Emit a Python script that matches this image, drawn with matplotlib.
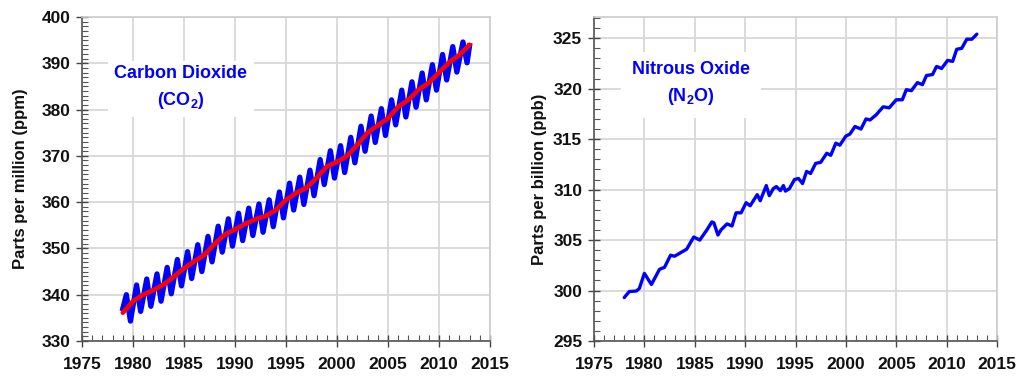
import matplotlib
matplotlib.use("Agg")
import matplotlib.pyplot as plt
from matplotlib.ticker import MultipleLocator

plt.rcParams['font.family'] = ['Liberation Sans', 'DejaVu Sans']
plt.rcParams['font.weight'] = 'bold'
plt.rcParams['mathtext.fontset'] = 'custom'
plt.rcParams['mathtext.rm'] = 'Liberation Sans:bold'
plt.rcParams['mathtext.bf'] = 'Liberation Sans:bold'
plt.rcParams['mathtext.default'] = 'rm'

# ---------------- CO2 data (ppm) ----------------
co2_trend_years = [1979, 1980, 1981, 1982, 1983, 1984, 1985, 1986, 1987, 1988,
                   1989, 1990, 1991, 1992, 1993, 1994, 1995, 1996, 1997, 1998,
                   1999, 2000, 2001, 2002, 2003, 2004, 2005, 2006, 2007, 2008,
                   2009, 2010, 2011, 2012, 2013]
co2_trend = [336.1, 338.6, 340.0, 341.0, 342.2, 343.9, 345.7, 347.2, 348.6, 351.0,
             353.0, 354.1, 355.3, 356.3, 357.0, 358.3, 360.5, 362.0, 363.1, 365.2,
             367.7, 368.7, 370.0, 372.4, 375.0, 376.6, 378.1, 380.6, 382.1, 384.3,
             385.8, 388.0, 390.2, 391.8, 394.0]

co2_peak_years = [1979.35, 1980.35, 1981.35, 1982.35, 1983.35, 1984.35, 1985.35,
                  1986.35, 1987.35, 1988.35, 1989.35, 1990.35, 1991.35, 1992.35,
                  1993.35, 1994.35, 1995.35, 1996.35, 1997.35, 1998.35, 1999.35,
                  2000.35, 2001.35, 2002.35, 2003.35, 2004.35, 2005.35, 2006.35,
                  2007.35, 2008.35, 2009.35, 2010.35, 2011.35, 2012.35]
co2_peak = [340.0, 342.1, 343.4, 344.5, 345.9, 347.6, 349.3, 350.8, 352.6, 354.8,
            356.4, 357.6, 358.7, 359.6, 360.5, 362.2, 364.1, 365.4, 366.9, 369.2,
            371.1, 372.2, 374.0, 376.4, 378.6, 380.2, 382.1, 384.2, 386.0, 387.9,
            389.7, 391.9, 393.6, 394.6]
co2_trough_years = [1979.75, 1980.75, 1981.75, 1982.75, 1983.75, 1984.75, 1985.75,
                    1986.75, 1987.75, 1988.75, 1989.75, 1990.75, 1991.75, 1992.75,
                    1993.75, 1994.75, 1995.75, 1996.75, 1997.75, 1998.75, 1999.75,
                    2000.75, 2001.75, 2002.75, 2003.75, 2004.75, 2005.75, 2006.75,
                    2007.75, 2008.75, 2009.75, 2010.75, 2011.75, 2012.75]
co2_trough = [334.3, 336.4, 337.5, 338.6, 340.2, 341.9, 343.5, 345.0, 347.1, 349.2,
              350.5, 351.7, 352.8, 353.5, 354.7, 356.6, 358.3, 359.5, 361.4, 363.8,
              365.2, 366.4, 368.5, 371.0, 372.9, 374.4, 376.7, 378.4, 380.5, 382.1,
              384.2, 386.4, 388.1, 390.1]
co2_start = (1979.0, 337.0)
co2_end = (2013.0, 393.8)

# ---------------- N2O data (ppb) ----------------
n2o_years = [1978.0, 1978.5, 1979.2, 1979.5, 1980.0, 1980.7, 1981.5, 1982.0, 1982.6,
             1983.0, 1984.2, 1984.9, 1985.5, 1986.2, 1986.7, 1986.9, 1987.3, 1987.6,
             1988.2, 1988.7, 1989.1, 1989.6, 1990.1, 1990.5, 1991.2, 1991.5, 1992.1,
             1992.4, 1992.8, 1993.1, 1993.5, 1993.8, 1994.0, 1994.4, 1994.9, 1995.3,
             1995.7, 1996.1, 1996.5, 1997.0, 1997.5, 1998.1, 1998.5, 1999.0, 1999.4,
             2000.0, 2000.4, 2000.9, 2001.5, 2002.0, 2002.4, 2003.0, 2003.7, 2004.3,
             2005.0, 2005.6, 2006.0, 2006.5, 2007.1, 2007.6, 2008.0, 2008.6, 2009.0,
             2009.5, 2010.1, 2010.6, 2011.0, 2011.5, 2012.0, 2012.5, 2013.0]
n2o_vals = [299.3, 299.9, 299.95, 300.2, 301.7, 300.6, 302.1, 302.3, 303.5,
            303.4, 304.1, 305.3, 305.0, 306.0, 306.8, 306.7, 305.5, 306.0,
            306.6, 306.4, 307.7, 307.7, 308.7, 308.4, 309.5, 308.9, 310.4,
            309.4, 310.1, 310.3, 309.9, 310.4, 309.85, 310.1, 311.0, 311.1,
            310.6, 311.8, 311.6, 312.6, 312.7, 313.6, 313.4, 314.6, 314.4,
            315.3, 315.5, 316.25, 316.0, 317.0, 316.9, 317.4, 318.2, 318.1,
            318.9, 318.9, 319.9, 319.8, 320.6, 320.4, 321.3, 321.4, 322.2,
            322.0, 322.8, 322.7, 323.9, 324.0, 324.9, 324.9, 325.4]

year_ticks = [1975, 1980, 1985, 1990, 1995, 2000, 2005, 2010, 2015]
co2_ticks = [330, 340, 350, 360, 370, 380, 390, 400]
n2o_ticks = [295, 300, 305, 310, 315, 320, 325]

# interleave the seasonal peaks and troughs
co2_x = [co2_start[0]]
co2_y = [co2_start[1]]
for px, py, tx, ty in zip(co2_peak_years, co2_peak, co2_trough_years, co2_trough):
    co2_x += [px, tx]
    co2_y += [py, ty]
co2_x.append(co2_end[0])
co2_y.append(co2_end[1])

fig = plt.figure(figsize=(10.19, 3.80), dpi=100)
ax1 = fig.add_axes([82 / 1019, 39 / 380, 408 / 1019, 324 / 380])
ax2 = fig.add_axes([594 / 1019, 39 / 380, 403 / 1019, 324 / 380])

grid_c = '#d8d8d8'


def style(ax, yticks, ylim, label, label_x):
    ax.set_xlim(1975, 2015)
    ax.set_ylim(*ylim)
    ax.set_xticks(year_ticks)
    ax.set_yticks(yticks)
    ax.xaxis.set_minor_locator(MultipleLocator(1))
    ax.yaxis.set_minor_locator(MultipleLocator(1))
    ax.grid(True, which='major', color=grid_c, linewidth=1.3, zorder=0)
    ax.set_axisbelow(True)
    ax.tick_params(which='major', direction='inout', length=9, width=1.0,
                   color='#444444', labelsize=12.5, pad=4)
    ax.tick_params(axis='x', which='major', pad=7)
    ax.tick_params(which='minor', direction='in', length=4, width=0.8,
                   color='#555555')
    for lab in ax.get_xticklabels() + ax.get_yticklabels():
        lab.set_fontweight('bold')
        lab.set_color('#111111')
    for s in ['top', 'right']:
        ax.spines[s].set_color('#cccccc')
        ax.spines[s].set_linewidth(1.2)
    for s in ['left', 'bottom']:
        ax.spines[s].set_color('#555555')
        ax.spines[s].set_linewidth(1.2)
    ax.set_ylabel(label, fontsize=12, fontweight='bold', color='#111111')
    ax.yaxis.set_label_coords(label_x, 0.5)


style(ax1, co2_ticks, (330, 400), 'Parts per million (ppm)', -0.132)
style(ax2, n2o_ticks, (295, 327.1), 'Parts per billion (ppb)', -0.117)

ax1.plot(co2_x, co2_y, color='#0000ff', linewidth=3.8, solid_joinstyle='round',
         zorder=3)
ax1.plot(co2_trend_years, co2_trend, color='#ff0000', linewidth=3.3,
         solid_capstyle='round', zorder=4)
ax2.plot(n2o_years, n2o_vals, color='#0000ff', linewidth=2.4,
         solid_capstyle='round', solid_joinstyle='round', zorder=3)

fig.text(181 / 1019, 1 - 88 / 380, 'Carbon Dioxide\n(CO$_2$)', ha='center',
         va='center', fontsize=13, fontweight='bold', color='#0000ff',
         linespacing=1.5,
         bbox=dict(facecolor='white', edgecolor='none', boxstyle='square,pad=0.35'))
fig.text(691 / 1019, 1 - 84 / 380, 'Nitrous Oxide\n(N$_2$O)', ha='center',
         va='center', fontsize=13, fontweight='bold', color='#0000ff',
         linespacing=1.5,
         bbox=dict(facecolor='white', edgecolor='none', boxstyle='square,pad=0.6'))

fig.savefig('out.png', dpi=100)
